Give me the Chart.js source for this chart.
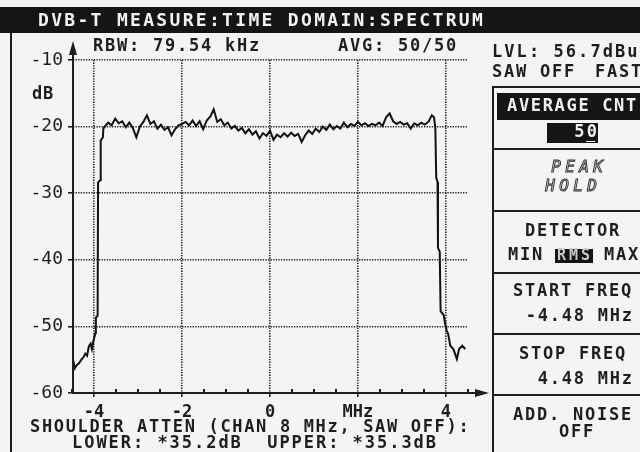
<!DOCTYPE html>
<html>
<head>
<meta charset="utf-8">
<script src="https://cdn.jsdelivr.net/npm/chart.js@4/dist/chart.umd.min.js"></script>
<style>
html, body { margin: 0; padding: 0; background: #f4f4f2; }
canvas { display: block; }
</style>
</head>
<body>
<canvas id="spec" width="640" height="452"></canvas>
<script>
// lower channel skirt
const lowSkirtFreq = [-4.47, -4.44, -4.39, -4.34, -4.29, -4.24, -4.20, -4.16, -4.12, -4.08, -4.05,
  -4.02, -3.99, -3.97, -3.96, -3.92, -3.91, -3.86, -3.85, -3.80, -3.79];
const lowSkirtDb = [-55.2, -56.3, -55.8, -55.5, -55.0, -54.6, -54.1, -54.4, -53.0, -52.6, -53.4,
  -52.3, -51.5, -51.0, -48.7, -48.4, -28.4, -28.0, -22.1, -21.6, -20.3];

// in-band spectrum
const bandFreq = [-3.76, -3.68, -3.60, -3.52, -3.44, -3.36, -3.28, -3.20, -3.12, -3.04,
  -2.96, -2.88, -2.80, -2.72, -2.64, -2.56, -2.48, -2.40, -2.32, -2.24,
  -2.16, -2.08, -2.00, -1.92, -1.84, -1.76, -1.68, -1.60, -1.52, -1.44,
  -1.36, -1.28, -1.20, -1.12, -1.04, -0.96, -0.88, -0.80, -0.72, -0.64,
  -0.56, -0.48, -0.40, -0.32, -0.24, -0.16, -0.08, 0.00, 0.08, 0.16,
  0.24, 0.32, 0.40, 0.48, 0.56, 0.64, 0.72, 0.80, 0.88, 0.96,
  1.04, 1.12, 1.20, 1.28, 1.36, 1.44, 1.52, 1.60, 1.68, 1.76,
  1.84, 1.92, 2.00, 2.08, 2.16, 2.24, 2.32, 2.40, 2.48, 2.56,
  2.64, 2.72, 2.80, 2.88, 2.96, 3.04, 3.12, 3.20, 3.28, 3.36,
  3.44, 3.52, 3.60, 3.68];
const bandDb = [-20.0, -19.4, -19.8, -18.8, -19.5, -19.2, -20.1, -19.4, -20.2, -21.6,
  -20.0, -19.3, -18.3, -19.6, -19.2, -20.3, -19.7, -20.5, -20.1, -21.3,
  -20.4, -19.8, -19.6, -19.3, -19.8, -19.1, -19.9, -19.2, -20.4, -19.1,
  -18.5, -17.4, -19.3, -18.9, -19.8, -19.4, -20.3, -19.9, -20.6, -20.2,
  -21.0, -20.4, -21.2, -20.7, -21.8, -21.0, -21.4, -20.6, -22.0, -21.2,
  -21.6, -21.0, -21.5, -20.9, -21.4, -21.1, -22.3, -21.3, -20.6, -21.1,
  -20.3, -20.8, -20.0, -20.5, -19.7, -20.4, -19.9, -20.3, -19.4, -20.1,
  -19.6, -19.9, -19.3, -19.8, -19.5, -19.9, -19.6, -19.8, -19.4, -19.9,
  -18.6, -18.0, -19.2, -19.6, -19.3, -19.7, -19.5, -20.3, -19.5, -19.8,
  -19.4, -19.7, -19.3, -18.3];

// upper channel skirt
const highSkirtFreq = [3.73, 3.76, 3.78, 3.81, 3.82, 3.86, 3.88, 3.95, 3.98, 4.02, 4.05,
  4.10, 4.17, 4.25, 4.30, 4.37, 4.44];
const highSkirtDb = [-18.6, -20.2, -27.7, -28.3, -38.2, -38.8, -47.7, -48.3, -49.5, -50.7, -51.1,
  -52.9, -53.4, -54.9, -53.4, -52.9, -53.4];

const yTicks = [-10, -20, -30, -40, -50, -60];
const xTicks = [-4, -2, 0, 2, 4];
const xTickLabels = ['-4', '-2', '0', 'MHz', '4'];

const INK = '#1e1e1e';
const BG = '#f4f4f2';
const MONO = '"DejaVu Sans Mono", monospace';

const freqs = lowSkirtFreq.concat(bandFreq, highSkirtFreq);
const levels = lowSkirtDb.concat(bandDb, highSkirtDb);

// fixed-pitch text like the instrument's LCD font
function lcd(ctx, str, x, y, pitch, align, font, color, stroke) {
  ctx.font = font;
  ctx.letterSpacing = '0px';
  const adv = ctx.measureText('M').width;
  const ls = pitch - adv;
  ctx.letterSpacing = ls + 'px';
  const w = str.length * pitch - ls;
  let left = x;
  if (align === 'center') left = x - w / 2;
  else if (align === 'right') left = x - w;
  ctx.textAlign = 'left';
  ctx.textBaseline = 'middle';
  if (stroke) {
    ctx.strokeStyle = color;
    ctx.lineWidth = 1;
    ctx.strokeText(str, left, y);
  } else {
    ctx.fillStyle = color;
    ctx.fillText(str, left, y);
  }
  ctx.letterSpacing = '0px';
}

const screen = {
  id: 'screen',
  beforeDraw(chart) {
    const ctx = chart.ctx;
    const f17 = 'bold 17px ' + MONO;
    ctx.save();
    ctx.fillStyle = BG;
    ctx.fillRect(0, 0, 640, 452);

    // title bar and frame
    ctx.fillStyle = '#151515';
    ctx.fillRect(0, 7, 640, 26);
    lcd(ctx, 'DVB-T MEASURE:TIME DOMAIN:SPECTRUM', 38, 21, 13.15, 'left', 'bold 18px ' + MONO, '#f2f2f2');
    ctx.fillStyle = INK;
    ctx.fillRect(10, 33, 2, 419);

    // header line
    lcd(ctx, 'RBW: 79.54 kHz', 93, 47, 12, 'left', f17, INK);
    lcd(ctx, 'AVG: 50/50', 338, 47, 12, 'left', f17, INK);
    lcd(ctx, 'LVL: 56.7dBuV', 492, 53, 12.3, 'left', f17, INK);
    lcd(ctx, 'SAW OFF', 492, 73, 12, 'left', f17, INK);
    lcd(ctx, 'FAST', 595, 73, 12, 'left', f17, INK);
    lcd(ctx, 'dB', 32, 95, 11, 'left', f17, INK);

    // softkey panel
    ctx.fillStyle = INK;
    ctx.fillRect(492, 86, 2, 366);
    [86, 148, 210, 272, 333, 394].forEach(y => ctx.fillRect(492, y, 148, 2));

    ctx.fillStyle = '#151515';
    ctx.fillRect(497, 93, 143, 27);
    lcd(ctx, 'AVERAGE CNT', 507, 107, 11.9, 'left', f17, '#f0f0f0');
    ctx.fillStyle = '#151515';
    ctx.fillRect(547, 123, 51, 20);
    lcd(ctx, '50', 597, 133, 12.5, 'right', f17, '#f0f0f0');
    ctx.fillStyle = '#f0f0f0';
    ctx.fillRect(586, 141, 9, 1);

    lcd(ctx, 'PEAK', 577, 168, 14, 'center', 'italic 16px ' + MONO, '#333', true);
    lcd(ctx, 'HOLD', 571, 187, 14, 'center', 'italic 16px ' + MONO, '#333', true);

    lcd(ctx, 'DETECTOR', 572, 232, 12, 'center', f17, INK);
    ctx.fillStyle = '#151515';
    ctx.fillRect(555, 249, 38, 14);
    lcd(ctx, 'MIN', 508, 256, 12, 'left', f17, INK);
    lcd(ctx, 'RMS', 557, 256, 12, 'left', 'bold 15px ' + MONO, '#c8c8c8');
    lcd(ctx, 'MAX', 604, 256, 12, 'left', f17, INK);

    lcd(ctx, 'START FREQ', 572, 292, 12, 'center', f17, INK);
    lcd(ctx, '-4.48 MHz', 632, 317, 12, 'right', f17, INK);
    lcd(ctx, 'STOP FREQ', 572, 355, 12, 'center', f17, INK);
    lcd(ctx, '4.48 MHz', 632, 380, 12, 'right', f17, INK);
    lcd(ctx, 'ADD. NOISE', 572, 416, 12, 'center', f17, INK);
    lcd(ctx, 'OFF', 576, 433, 12, 'center', f17, INK);

    // shoulder attenuation readout
    lcd(ctx, 'SHOULDER ATTEN (CHAN 8 MHz, SAW OFF):', 30, 428, 11.9, 'left', f17, INK);
    lcd(ctx, 'LOWER: *35.2dB  UPPER: *35.3dB', 72, 444, 12.2, 'left', f17, INK);
    ctx.restore();
  },
  afterDraw(chart) {
    const { ctx, chartArea: a, scales: { x, y } } = chart;
    const y0 = Math.round(y.getPixelForValue(-60));
    const x0 = Math.round(a.left);
    ctx.save();
    ctx.fillStyle = INK;
    // y axis with arrow head
    ctx.fillRect(x0 - 1, 52, 2, y0 - 51);
    ctx.beginPath();
    ctx.moveTo(x0, 41); ctx.lineTo(x0 - 4, 55); ctx.lineTo(x0 + 4, 55); ctx.closePath(); ctx.fill();
    // x axis with arrow head
    ctx.fillRect(x0, y0 - 1, 476 - x0, 2);
    ctx.beginPath();
    ctx.moveTo(489, y0); ctx.lineTo(475, y0 - 4); ctx.lineTo(475, y0 + 4); ctx.closePath(); ctx.fill();
    // half-MHz minor ticks
    for (let v = -4.5; v <= 4.5; v += 0.5) {
      if (xTicks.includes(v)) continue;
      const px = Math.round(x.getPixelForValue(v));
      ctx.fillRect(px - 1, y0 - 4, 2, 3);
    }
    ctx.restore();
  }
};

new Chart(document.getElementById('spec'), {
  type: 'line',
  data: {
    datasets: [{
      data: freqs.map((f, i) => ({ x: f, y: levels[i] })),
      borderColor: '#111',
      borderWidth: 2,
      pointRadius: 0,
      tension: 0,
      fill: false
    }]
  },
  options: {
    responsive: false,
    animation: false,
    devicePixelRatio: 1,
    layout: { padding: { top: 60, right: 173, bottom: 0, left: 0 } },
    plugins: { legend: { display: false }, tooltip: { enabled: false } },
    scales: {
      x: {
        type: 'linear',
        min: -4.48,
        max: 4.48,
        afterBuildTicks: s => { s.ticks = xTicks.map(v => ({ value: v })); },
        afterFit: s => { s.height = 59; },
        ticks: {
          callback: (v, i) => xTickLabels[i],
          font: { family: MONO, size: 17, weight: 'bold' },
          color: INK,
          padding: 5,
          maxRotation: 0,
          autoSkip: false
        },
        grid: { color: '#222', lineWidth: 1.6, tickLength: 4 },
        border: { display: false, dash: [1.3, 1.3] }
      },
      y: {
        min: -60,
        max: -10,
        afterBuildTicks: s => { s.ticks = yTicks.map(v => ({ value: v })); },
        afterFit: s => { s.width = 73; },
        ticks: {
          callback: v => String(v),
          font: { family: MONO, size: 18 },
          color: INK,
          padding: 5
        },
        grid: { color: '#222', lineWidth: 1.6, tickLength: 5 },
        border: { display: false, dash: [1.3, 1.3] }
      }
    }
  },
  plugins: [screen]
});
</script>
</body>
</html>
